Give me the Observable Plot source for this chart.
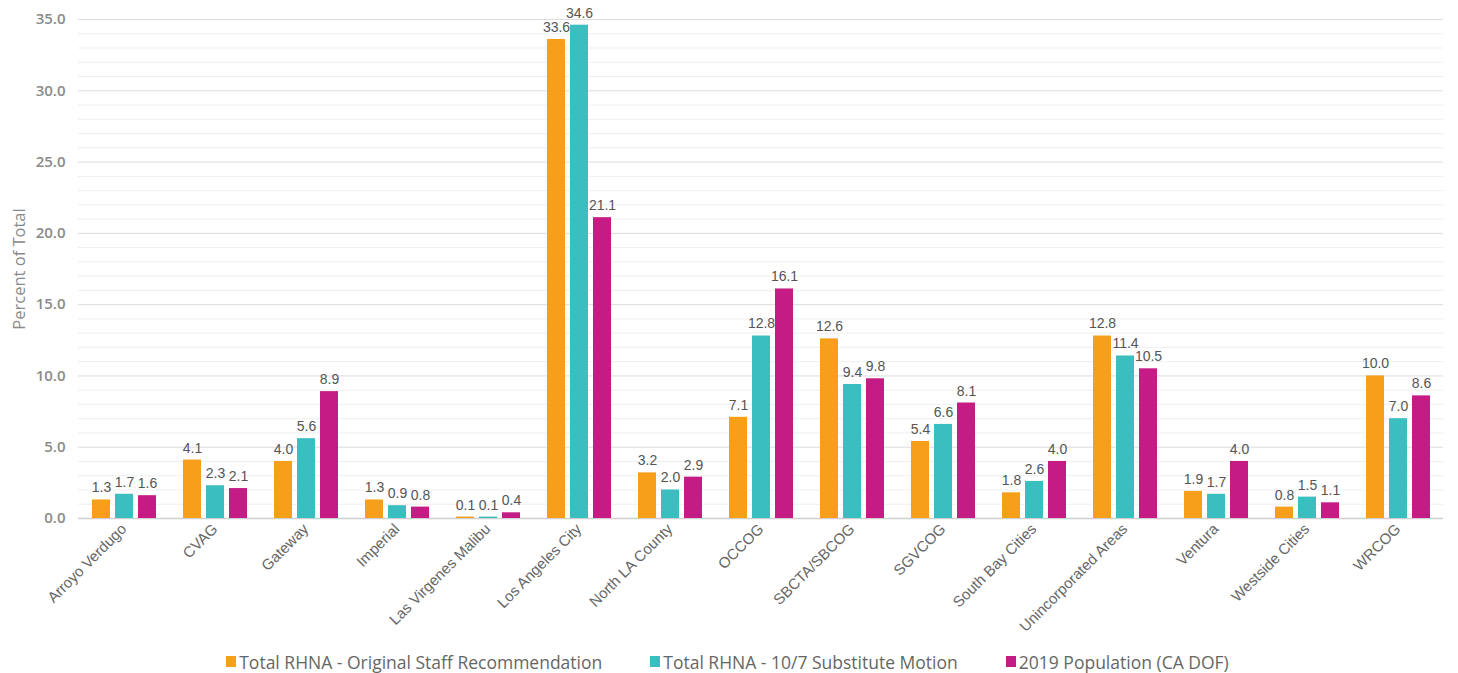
<!DOCTYPE html>
<html>
<head>
<meta charset="utf-8">
<script src="https://cdn.jsdelivr.net/npm/d3@7"></script>
<script src="https://cdn.jsdelivr.net/npm/@observablehq/plot@0.6"></script>
<style>
  html, body { margin: 0; padding: 0; background: #fff; }
  #legend { display: flex; justify-content: center; align-items: center; gap: 48px; height: 33px; padding-top: 5px;
    font-family: "Open Sans", sans-serif; font-size: 17.5px; color: #666; margin-left: -3px; }
  #legend .item { display: flex; align-items: center; gap: 3px; }
  #legend .sw { width: 10px; height: 11px; display: inline-block; }
</style>
</head>
<body>
<div id="chart"></div>
<div id="legend"></div>
<script>
const categories = ["Arroyo Verdugo","CVAG","Gateway","Imperial","Las Virgenes Malibu","Los Angeles City","North LA County","OCCOG","SBCTA/SBCOG","SGVCOG","South Bay Cities","Unincorporated Areas","Ventura","Westside Cities","WRCOG"];
const series = ["Total RHNA - Original Staff Recommendation","Total RHNA - 10/7 Substitute Motion","2019 Population (CA DOF)"];
const colors = ["#F79E1B","#3BBEC0","#C51B84"];
const originalStaff = [1.3,4.1,4.0,1.3,0.1,33.6,3.2,7.1,12.6,5.4,1.8,12.8,1.9,0.8,10.0];
const substituteMotion = [1.7,2.3,5.6,0.9,0.1,34.6,2.0,12.8,9.4,6.6,2.6,11.4,1.7,1.5,7.0];
const population2019 = [1.6,2.1,8.9,0.8,0.4,21.1,2.9,16.1,9.8,8.1,4.0,10.5,4.0,1.1,8.6];
const majorTicks = [0,5,10,15,20,25,30,35];
const minorTicks = d3.range(1,35).filter(v => v % 5 !== 0);

const seriesValues = [originalStaff, substituteMotion, population2019];
const data = [];
categories.forEach((c, i) => series.forEach((s, j) => data.push({cat: c, series: s, value: seriesValues[j][i]})));

const chart = Plot.plot({
  width: 1458, height: 640,
  marginLeft: 78, marginRight: 15, marginTop: 19, marginBottom: 122,
  fx: {domain: categories, padding: 0},
  x: {domain: series, paddingInner: 0.23, paddingOuter: 0.55, axis: null},
  y: {domain: [0, 35]},
  color: {domain: series, range: colors},
  marks: [
    Plot.ruleY(minorTicks, {stroke: "#efefef", strokeWidth: 1}),
    Plot.ruleY(majorTicks.slice(1), {stroke: "#dcdcdc", strokeWidth: 1}),
    Plot.ruleY([0], {stroke: "#cfcfcf", strokeWidth: 1.5}),
    Plot.barY(data, {fx: "cat", x: "series", y: "value", fill: "series"}),
    Plot.text(data, {fx: "cat", x: "series", y: "value", text: d => d.value.toFixed(1), dy: -12,
      fontFamily: "Arial, 'Liberation Sans', sans-serif", fontSize: 14, fill: "#555"}),
    Plot.axisY({ticks: majorTicks, tickFormat: d => d.toFixed(1), tickSize: 0, tickPadding: 13,
      fontFamily: "'Open Sans', sans-serif", fontSize: 15, fontWeight: 600, color: "#8a8a8a",
      label: "Percent of Total", labelAnchor: "center", labelArrow: "none", labelOffset: 65}),
    Plot.axisFx({anchor: "bottom", tickRotate: -45, tickSize: 0, tickPadding: 8, label: null,
      fontFamily: "Arial, 'Liberation Sans', sans-serif", fontSize: 15, color: "#666"})
  ]
});
document.getElementById("chart").appendChild(chart);
// style the y-axis title separately (larger, normal weight)
chart.querySelectorAll('[aria-label="y-axis label"] text, [aria-label="y-axis label"]').forEach(el => {
  el.setAttribute("font-size", 16.5);
  el.setAttribute("font-weight", 400);
  el.style.fontSize = "16.5px";
  el.style.fontWeight = "400";
});

const legend = document.getElementById("legend");
series.forEach((s, j) => {
  const item = document.createElement("div");
  item.className = "item";
  const sw = document.createElement("span");
  sw.className = "sw";
  sw.style.background = colors[j];
  const t = document.createElement("span");
  t.textContent = s;
  item.appendChild(sw); item.appendChild(t);
  legend.appendChild(item);
});
</script>
</body>
</html>
